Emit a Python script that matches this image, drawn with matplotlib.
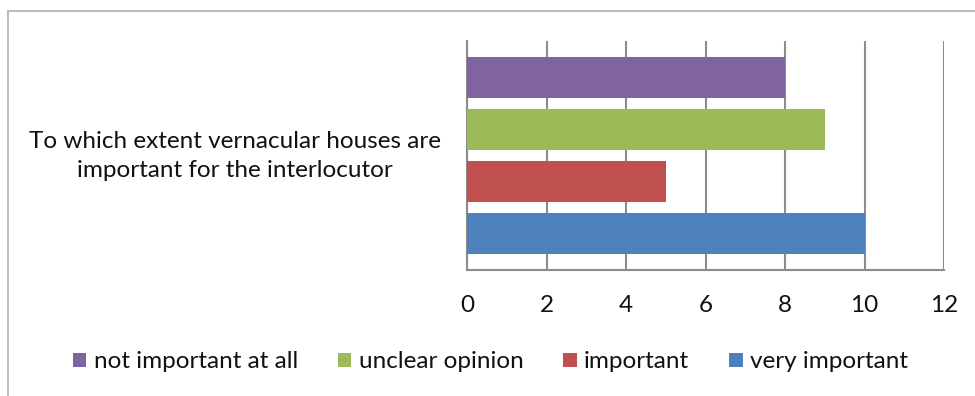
import matplotlib
matplotlib.use("Agg")
import matplotlib.pyplot as plt
from matplotlib.patches import Patch, Rectangle
from matplotlib.transforms import ScaledTranslation

plt.rcParams['font.family'] = ['Lato', 'DejaVu Sans']

category = "To which extent vernacular houses are\nimportant for the interlocutor"
series = ["not important at all", "unclear opinion", "important", "very important"]
values = [8, 9, 5, 10]
colors = ["#8064A2", "#9BBB59", "#C0504D", "#4F81BD"]
xticks = [0, 2, 4, 6, 8, 10, 12]

W, H = 975, 396
FS = 17.5
TXT = "#111111"
fig = plt.figure(figsize=(W / 100, H / 100), dpi=100)
fig.patch.set_facecolor("white")

# outer chart frame (top and left edges visible)
fig.add_artist(Rectangle((8 / W, -0.05), 1.1, 1 - 11 / H + 0.05,
                         transform=fig.transFigure, fill=False,
                         edgecolor="#BDBDBD", linewidth=1.5))

ax = fig.add_axes([467 / W, 1 - 270 / H, (944 - 467) / W, (270 - 41) / H])

n = len(series)
bar_h = 0.79
for i, (name, val, col) in enumerate(zip(series, values, colors)):
    offset = (n - 1) / 2 - i
    ax.barh(offset, val, height=bar_h, color=col, label=name, zorder=3)

ax.set_xlim(0, 12)
ax.set_ylim(-2.2, 2.2)
ax.set_xticks(xticks)
ax.set_xticklabels([str(t) for t in xticks])
ax.set_yticks([0])
ax.set_yticklabels([category], ha="center", multialignment="center")

ax.grid(axis="x", color="#8C8C8C", linewidth=1.5, zorder=1)
for s in ["top", "right"]:
    ax.spines[s].set_visible(False)
for s in ["left", "bottom"]:
    ax.spines[s].set_color("#8C8C8C")
    ax.spines[s].set_linewidth(1.5)

ax.tick_params(axis="x", length=0, pad=18, labelsize=FS, labelcolor=TXT)
ax.tick_params(axis="y", length=0, pad=167, labelsize=FS, labelcolor=TXT)
for lbl in ax.get_yticklabels():
    lbl.set_linespacing(1.42)
    # nudge the category label slightly upward
    lbl.set_transform(lbl.get_transform() + ScaledTranslation(0, 5 / 100, fig.dpi_scale_trans))

handles = [Patch(facecolor=c, edgecolor="none") for c in colors]
fig.legend(handles, series, loc="center", bbox_to_anchor=(0.503, 1 - 362 / H),
           ncol=4, frameon=False, fontsize=FS, handlelength=0.55, handleheight=0.55,
           handletextpad=0.3, columnspacing=1.65, labelcolor=TXT)

fig.savefig("out.png", dpi=100, facecolor="white")
